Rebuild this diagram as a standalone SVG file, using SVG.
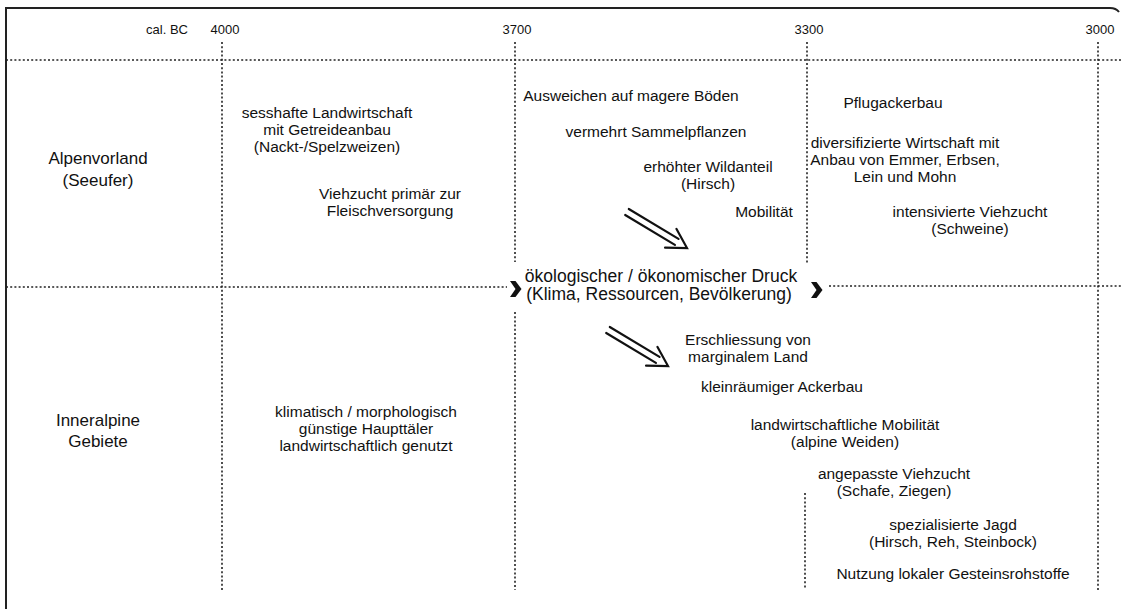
<svg xmlns="http://www.w3.org/2000/svg" width="1121" height="609" viewBox="0 0 1121 609">
<style>
text{font-family:"Liberation Sans",Arial,sans-serif;fill:#111;text-anchor:middle}
.t{font-size:15.5px}
.h{font-size:13px}
.r{font-size:17px}
.c{font-size:17.5px}
.dot{stroke:#222;stroke-width:1.6;stroke-dasharray:2 2.2;fill:none}
.frame{stroke:#222;stroke-width:2;fill:none}
.arr{stroke:#111;stroke-width:2.2;fill:none;stroke-linecap:round;stroke-linejoin:miter}
.chev{fill:#111}
</style>
<rect width="1121" height="609" fill="#fff"/>
<g id="frame">
<path class="frame" d="M6,609 V8 H1110 Q1116,8 1119,12"/>
</g>
<g id="grid">
<line class="dot" x1="6" y1="60" x2="1121" y2="60"/>
<line class="dot" x1="6" y1="287" x2="507" y2="287"/>
<line class="dot" x1="829" y1="286" x2="1121" y2="286"/>
<line class="dot" x1="222" y1="42" x2="222" y2="592"/>
<line class="dot" x1="515" y1="42" x2="515" y2="262"/>
<line class="dot" x1="515" y1="312" x2="515" y2="590"/>
<line class="dot" x1="807" y1="42" x2="807" y2="264"/>
<line class="dot" x1="805" y1="493" x2="805" y2="588"/>
<line class="dot" x1="1098" y1="42" x2="1098" y2="590"/>
</g>
<g id="header">
<text class="h" x="167" y="34">cal. BC</text>
<text class="h" x="225" y="34">4000</text>
<text class="h" x="517" y="34">3700</text>
<text class="h" x="809" y="34">3300</text>
<text class="h" x="1100" y="34">3000</text>
</g>
<g id="region-alpenvorland">
<text class="r" x="98" y="164">Alpenvorland</text>
<text class="r" x="98" y="186">(Seeufer)</text>
</g>
<g id="region-inneralpine">
<text class="r" x="98" y="426">Inneralpine</text>
<text class="r" x="98" y="447">Gebiete</text>
</g>
<g id="n-sesshafte">
<text class="t" x="327" y="118">sesshafte Landwirtschaft</text>
<text class="t" x="327" y="135">mit Getreideanbau</text>
<text class="t" x="327" y="152">(Nackt-/Spelzweizen)</text>
</g>
<g id="n-viehzucht">
<text class="t" x="390" y="199">Viehzucht primär zur</text>
<text class="t" x="390" y="216">Fleischversorgung</text>
</g>
<g id="n-ausweichen"><text class="t" x="631" y="101">Ausweichen auf magere Böden</text></g>
<g id="n-sammel"><text class="t" x="656" y="137">vermehrt Sammelpflanzen</text></g>
<g id="n-wild">
<text class="t" x="708" y="172">erhöhter Wildanteil</text>
<text class="t" x="708" y="189">(Hirsch)</text>
</g>
<g id="n-mobil"><text class="t" x="764" y="217">Mobilität</text></g>
<g id="n-pflug"><text class="t" x="893" y="108">Pflugackerbau</text></g>
<g id="n-divers">
<text class="t" x="905" y="148">diversifizierte Wirtschaft mit</text>
<text class="t" x="905" y="165">Anbau von Emmer, Erbsen,</text>
<text class="t" x="905" y="182">Lein und Mohn</text>
</g>
<g id="n-intens">
<text class="t" x="970" y="217">intensivierte Viehzucht</text>
<text class="t" x="970" y="234">(Schweine)</text>
</g>
<g id="n-druck">
<text class="c" x="661" y="282">ökologischer / ökonomischer Druck</text>
<text class="c" x="659" y="300">(Klima, Ressourcen, Bevölkerung)</text>
</g>
<g id="n-klima">
<text class="t" x="366" y="417">klimatisch / morphologisch</text>
<text class="t" x="366" y="434">günstige Haupttäler</text>
<text class="t" x="366" y="451">landwirtschaftlich genutzt</text>
</g>
<g id="n-erschl">
<text class="t" x="748" y="345">Erschliessung von</text>
<text class="t" x="748" y="362">marginalem Land</text>
</g>
<g id="n-klein"><text class="t" x="782" y="392">kleinräumiger Ackerbau</text></g>
<g id="n-lwmob">
<text class="t" x="845" y="430">landwirtschaftliche Mobilität</text>
<text class="t" x="845" y="447">(alpine Weiden)</text>
</g>
<g id="n-angep">
<text class="t" x="894" y="479">angepasste Viehzucht</text>
<text class="t" x="894" y="496">(Schafe, Ziegen)</text>
</g>
<g id="n-jagd">
<text class="t" x="953" y="530">spezialisierte Jagd</text>
<text class="t" x="953" y="547">(Hirsch, Reh, Steinbock)</text>
</g>
<g id="n-nutzung"><text class="t" x="953" y="579">Nutzung lokaler Gesteinsrohstoffe</text></g>
<g id="connectors">
<path class="chev" d="M510,281 L515.5,281 L521.5,289 L515.5,297 L510,297 L515.5,289 Z"/>
<path class="chev" d="M811,282 L816.5,282 L822.5,290 L816.5,298 L811,298 L816.5,290 Z"/>
<g transform="translate(627,212) rotate(31)">
<line class="arr" x1="0" y1="-3.5" x2="58" y2="-3.5"/>
<line class="arr" x1="0" y1="3.5" x2="58" y2="3.5"/>
<polyline class="arr" points="51,-11 70,0 51,11"/>
</g>
<g transform="translate(608,330) rotate(31)">
<line class="arr" x1="0" y1="-3.5" x2="58" y2="-3.5"/>
<line class="arr" x1="0" y1="3.5" x2="58" y2="3.5"/>
<polyline class="arr" points="51,-11 70,0 51,11"/>
</g>
</g>
</svg>
